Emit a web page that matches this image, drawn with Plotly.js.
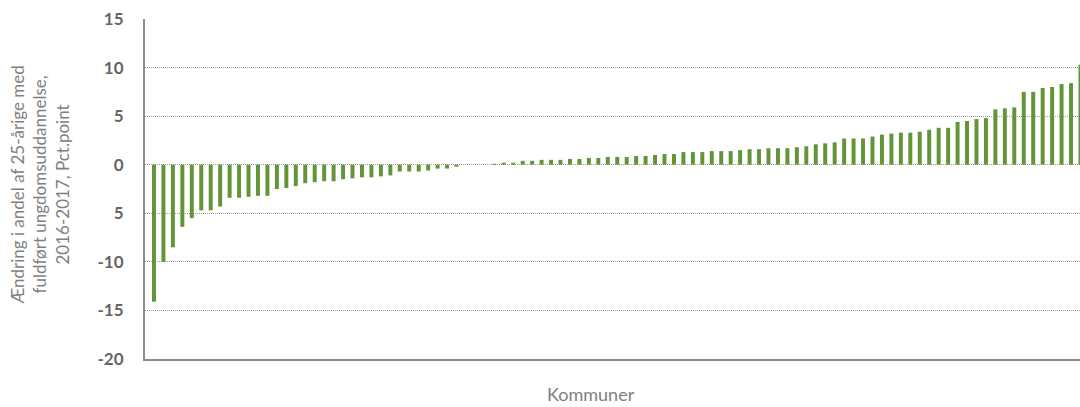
<!DOCTYPE html>
<html>
<head>
<meta charset="utf-8">
<script src="https://cdn.plot.ly/plotly-3.0.1.min.js"></script>
<style>html,body{margin:0;padding:0;background:#fff;}#chart{width:1080px;height:407px;}</style>
</head>
<body>
<div id="chart"></div>
<script>
// Change in share of 25-year-olds with completed youth education, 2016-2017 (pct. points), sorted
const values = [
  -14.1, -10.0, -8.5, -6.4, -5.5, -4.7, -4.7, -4.3, -3.4, -3.4, -3.3, -3.2, -3.2,
  -2.5, -2.4, -2.2, -1.9, -1.8, -1.7, -1.7, -1.5, -1.4, -1.3, -1.3, -1.2, -1.1,
  -0.7, -0.7, -0.7, -0.6, -0.4, -0.4, -0.2,
  0, 0, 0,
  0.1, 0.2, 0.2, 0.4, 0.4, 0.5, 0.5, 0.5, 0.6, 0.6, 0.7, 0.7, 0.8, 0.8, 0.8,
  0.9, 0.9, 1.0, 1.1, 1.1, 1.3, 1.3, 1.3, 1.4, 1.4, 1.4,
  1.5, 1.6, 1.6, 1.7, 1.7, 1.7, 1.8, 1.9, 2.1, 2.2, 2.3, 2.7, 2.7, 2.7, 2.9,
  3.1, 3.2, 3.3, 3.3, 3.4, 3.6, 3.8, 3.8, 4.4, 4.5, 4.7, 4.8, 5.7, 5.8, 5.9,
  7.5, 7.5, 7.9, 8.0, 8.3, 8.4, 10.3
];
// Municipalities are unlabeled in the chart; categories are their rank positions
const kommuner = values.map((_, i) => i);
const yTickVals = [15, 10, 5, 0, -5, -10, -15, -20];
const yTickText = ['15', '10', '5', '0', '5', '-10', '-15', '-20'];
const yTitle = 'Ændring i andel af 25-årige med<br>fuldført ungdomsuddannelse,<br>2016-2017, Pct.point';
const xTitle = 'Kommuner';

const trace = {
  type: 'bar',
  x: kommuner,
  y: values,
  width: 0.42,
  marker: {color: '#619537', line: {width: 0}},
  hoverinfo: 'y'
};

const layout = {
  width: 1080,
  height: 407,
  margin: {l: 145, r: 0, t: 19, b: 48},
  paper_bgcolor: '#ffffff',
  plot_bgcolor: '#ffffff',
  showlegend: false,
  xaxis: {
    range: [-0.95, 97.95],
    showticklabels: false,
    ticks: '',
    showgrid: false,
    zeroline: false,
    showline: true,
    linecolor: '#8c8c8c',
    linewidth: 2,
    fixedrange: true
  },
  yaxis: {
    range: [-20, 15],
    tickvals: yTickVals,
    ticktext: yTickText,
    ticks: '',
    ticklabelstandoff: 16,
    tickfont: {family: 'Lato, "Open Sans", sans-serif', size: 17, color: '#666666', weight: 'bold'},
    showgrid: true,
    gridcolor: '#9a9a9a',
    griddash: '1px,1px',
    gridwidth: 1,
    zeroline: false,
    showline: true,
    linecolor: '#8c8c8c',
    linewidth: 2,
    fixedrange: true
  },
  annotations: [
    {
      text: yTitle,
      xref: 'paper', yref: 'paper',
      x: (40 - 145) / 935, y: 0.51,
      xanchor: 'center', yanchor: 'middle',
      textangle: -90,
      showarrow: false,
      align: 'center',
      font: {family: 'Lato, "Open Sans", sans-serif', size: 17, color: '#7f7f7f'}
    },
    {
      text: xTitle,
      xref: 'paper', yref: 'paper',
      x: (591 - 145) / 935, y: -0.104,
      xanchor: 'center', yanchor: 'middle',
      showarrow: false,
      font: {family: 'Lato, "Open Sans", sans-serif', size: 18, color: '#7f7f7f'}
    }
  ]
};

Plotly.newPlot('chart', [trace], layout, {displayModeBar: false, staticPlot: true});
</script>
</body>
</html>
